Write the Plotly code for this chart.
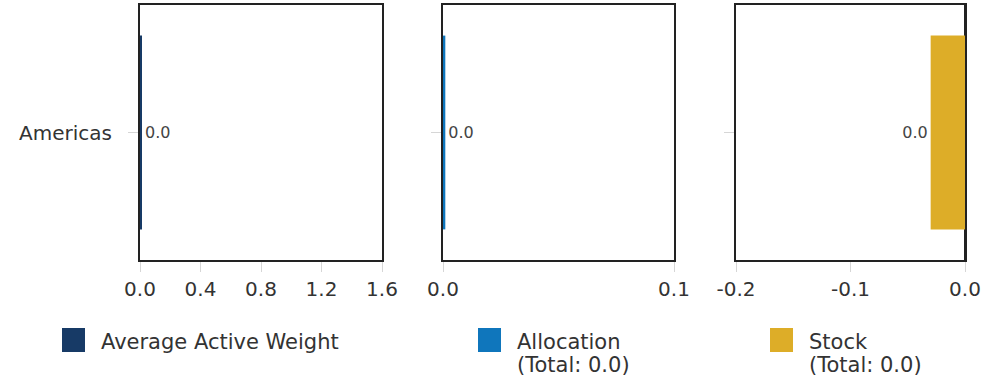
import plotly.graph_objects as go
from plotly.subplots import make_subplots

# data
regions = ["Americas"]
avg_active_weight = [0.01]
allocation = [0.001]
stock = [-0.03]
bar_labels = ["0.0"]

legend_lines = [["Average Active Weight"], ["Allocation", "(Total: 0.0)"], ["Stock", "(Total: 0.0)"]]
series_colors = ["#173A66", "#0F76BC", "#DDAD28"]

x_ranges = [[0, 1.6], [0, 0.1], [-0.2, 0]]
x_tickvals = [[0, 0.4, 0.8, 1.2, 1.6], [0, 0.1], [-0.2, -0.1, 0]]
x_ticktext = [["0.0", "0.4", "0.8", "1.2", "1.6"], ["0.0", "0.1"], ["-0.2", "-0.1", "0.0"]]

FONT = "DejaVu Sans"
W, H = 999, 379


def px_x(p):
    return p / W


def px_y(p):
    return 1 - p / H


fig = make_subplots(rows=1, cols=3, shared_yaxes=False)

for i, vals in enumerate([avg_active_weight, allocation, stock]):
    fig.add_trace(go.Bar(
        y=regions,
        x=vals,
        orientation="h",
        width=0.76,
        marker=dict(color=series_colors[i], line=dict(width=0)),
        text=bar_labels,
        textposition="outside",
        textfont=dict(size=16, color="#444444", family=FONT),
        cliponaxis=False,
        showlegend=False,
    ), row=1, col=i + 1)

# panel positions in pixels
x_dom = [(140, 382), (443, 674), (736, 965)]
y_dom = (5, 260)

axis_common = dict(
    showline=True, linecolor="#222222", linewidth=2, mirror=True,
    showgrid=False, ticks="outside", ticklen=10, tickwidth=1, tickcolor="#d6d6d6",
    tickfont=dict(size=20, color="#333333", family=FONT),
    automargin=False,
)

for i in range(3):
    xa = "xaxis" if i == 0 else f"xaxis{i + 1}"
    ya = "yaxis" if i == 0 else f"yaxis{i + 1}"
    fig.update_layout({
        xa: dict(axis_common,
                 domain=[px_x(x_dom[i][0]), px_x(x_dom[i][1])],
                 range=x_ranges[i], tickvals=x_tickvals[i], ticktext=x_ticktext[i],
                 zeroline=(i == 2), zerolinecolor="#222222", zerolinewidth=2,
                 layer="below traces" if i < 2 else "above traces"),
        ya: dict(axis_common,
                 domain=[px_y(y_dom[1]), px_y(y_dom[0])],
                 showticklabels=(i == 0), ticklabelstandoff=12,
                 layer="below traces"),
    })

# legend drawn as squares + labels under each panel
leg_x = [62, 478, 770]
leg_y = 328
for i in range(3):
    fig.add_shape(type="rect", xref="paper", yref="paper",
                  x0=px_x(leg_x[i]), x1=px_x(leg_x[i] + 23),
                  y0=px_y(leg_y + 24), y1=px_y(leg_y),
                  fillcolor=series_colors[i], line=dict(width=0))
    for j, line in enumerate(legend_lines[i]):
        fig.add_annotation(xref="paper", yref="paper",
                           x=px_x(leg_x[i] + 37), y=px_y(leg_y + 14 + 23 * j),
                           xanchor="left", yanchor="middle", align="left",
                           text=line, showarrow=False,
                           font=dict(size=21, color="#333333", family=FONT))

fig.update_layout(
    width=W, height=H,
    margin=dict(l=0, r=0, t=0, b=0),
    paper_bgcolor="white", plot_bgcolor="white",
    font=dict(family=FONT, color="#333333"),
)

# drop the default page margin so the figure sits at the window's corner
fig.write_html(
    "out.html",
    config={"displayModeBar": False},
    post_script="document.body.style.margin='0';document.body.style.overflow='hidden';",
)
